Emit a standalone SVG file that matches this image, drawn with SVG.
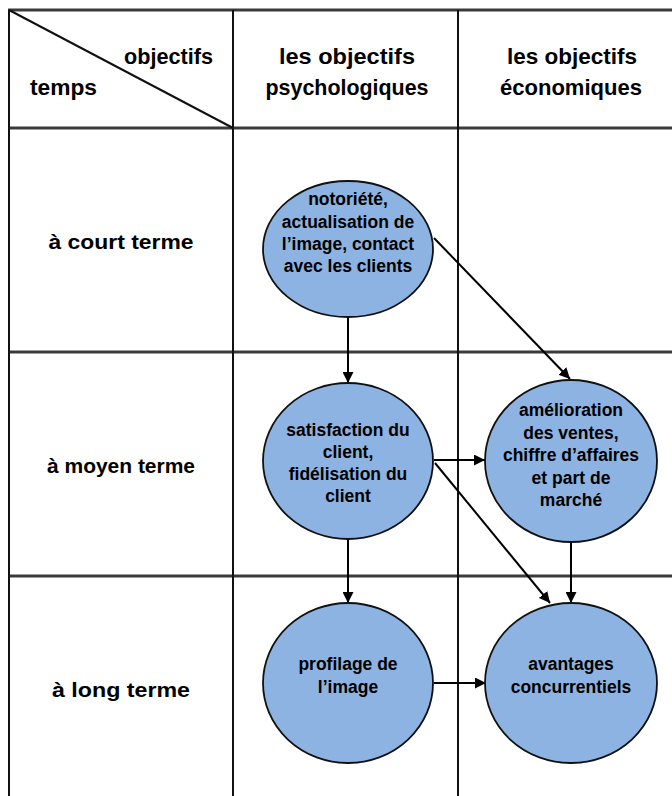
<svg xmlns="http://www.w3.org/2000/svg" width="672" height="796" viewBox="0 0 672 796">
<style>
.grid{stroke:#111;stroke-width:2;fill:none}
.hgrid{stroke:#3a3a3a;stroke-width:3;fill:none}
.hd{font-family:"Liberation Sans",Arial,sans-serif;font-weight:bold;font-size:22px;fill:#000}
.rl{font-family:"Liberation Sans",Arial,sans-serif;font-weight:bold;font-size:20px;fill:#000}
.node ellipse{fill:#8db3e2;stroke:#111;stroke-width:1.8}
.nt{font-family:"Liberation Sans",Arial,sans-serif;font-weight:bold;font-size:17.5px;fill:#000;text-anchor:middle}
.conn line{stroke:#000;stroke-width:2;marker-end:url(#ah)}
</style>
<defs>
<marker id="ah" viewBox="0 0 10 10" refX="10" refY="5" markerWidth="5.5" markerHeight="5.5" orient="auto" markerUnits="strokeWidth">
<path d="M0,0 L10,5 L0,10 z" fill="#000"/>
</marker>
</defs>
<rect width="672" height="796" fill="#fff"/>
<g id="table">
<line class="hgrid" x1="8" y1="10" x2="672" y2="10"/>
<line class="hgrid" x1="8" y1="128" x2="672" y2="128"/>
<line class="hgrid" x1="8" y1="352" x2="672" y2="352"/>
<line class="hgrid" x1="8" y1="576" x2="672" y2="576"/>
<line class="grid" x1="9" y1="10" x2="9" y2="796"/>
<line class="grid" x1="233" y1="10" x2="233" y2="796"/>
<line class="grid" x1="458" y1="10" x2="458" y2="796"/>
<line class="grid" x1="9" y1="10" x2="233" y2="128"/>
<text class="hd" x="124" y="64" textLength="89" lengthAdjust="spacingAndGlyphs">objectifs</text>
<text class="hd" x="30" y="95" textLength="67" lengthAdjust="spacingAndGlyphs">temps</text>
<text class="hd" x="347" y="64" text-anchor="middle" textLength="136" lengthAdjust="spacingAndGlyphs">les objectifs</text>
<text class="hd" x="347" y="95" text-anchor="middle" textLength="163" lengthAdjust="spacingAndGlyphs">psychologiques</text>
<text class="hd" x="572" y="64" text-anchor="middle" textLength="130" lengthAdjust="spacingAndGlyphs">les objectifs</text>
<text class="hd" x="571" y="95" text-anchor="middle" textLength="142" lengthAdjust="spacingAndGlyphs">économiques</text>
<text class="rl" x="121" y="249" text-anchor="middle" textLength="145" lengthAdjust="spacingAndGlyphs">à court terme</text>
<text class="rl" x="121" y="473" text-anchor="middle" textLength="148" lengthAdjust="spacingAndGlyphs">à moyen terme</text>
<text class="rl" x="121" y="697" text-anchor="middle" textLength="138" lengthAdjust="spacingAndGlyphs">à long terme</text>
</g>
<g id="connectors" class="conn">
<line x1="348" y1="317" x2="348" y2="383"/>
<line x1="434" y1="238" x2="570" y2="379"/>
<line x1="434" y1="460" x2="485" y2="460"/>
<line x1="435" y1="463" x2="550" y2="603"/>
<line x1="348" y1="540" x2="348" y2="603"/>
<line x1="571" y1="542" x2="571" y2="603"/>
<line x1="434" y1="683" x2="486" y2="683"/>
</g>
<g id="n1" class="node">
<ellipse cx="348" cy="249" rx="85" ry="68"/>
<text class="nt" x="348" y="205">notoriété,</text>
<text class="nt" x="348" y="228">actualisation de</text>
<text class="nt" x="348" y="250">l’image, contact</text>
<text class="nt" x="348" y="272">avec les clients</text>
</g>
<g id="n2" class="node">
<ellipse cx="348" cy="461" rx="85" ry="78"/>
<text class="nt" x="348" y="436">satisfaction du</text>
<text class="nt" x="348" y="458">client,</text>
<text class="nt" x="348" y="480">fidélisation du</text>
<text class="nt" x="348" y="502">client</text>
</g>
<g id="n3" class="node">
<ellipse cx="571" cy="461" rx="86" ry="81"/>
<text class="nt" x="571" y="416">amélioration</text>
<text class="nt" x="571" y="439">des ventes,</text>
<text class="nt" x="571" y="461">chiffre d’affaires</text>
<text class="nt" x="571" y="484">et part de</text>
<text class="nt" x="571" y="506">marché</text>
</g>
<g id="n4" class="node">
<ellipse cx="348" cy="683" rx="85" ry="80"/>
<text class="nt" x="348" y="670">profilage de</text>
<text class="nt" x="348" y="693">l’image</text>
</g>
<g id="n5" class="node">
<ellipse cx="571" cy="683" rx="86" ry="80"/>
<text class="nt" x="571" y="670">avantages</text>
<text class="nt" x="571" y="693">concurrentiels</text>
</g>
</svg>
